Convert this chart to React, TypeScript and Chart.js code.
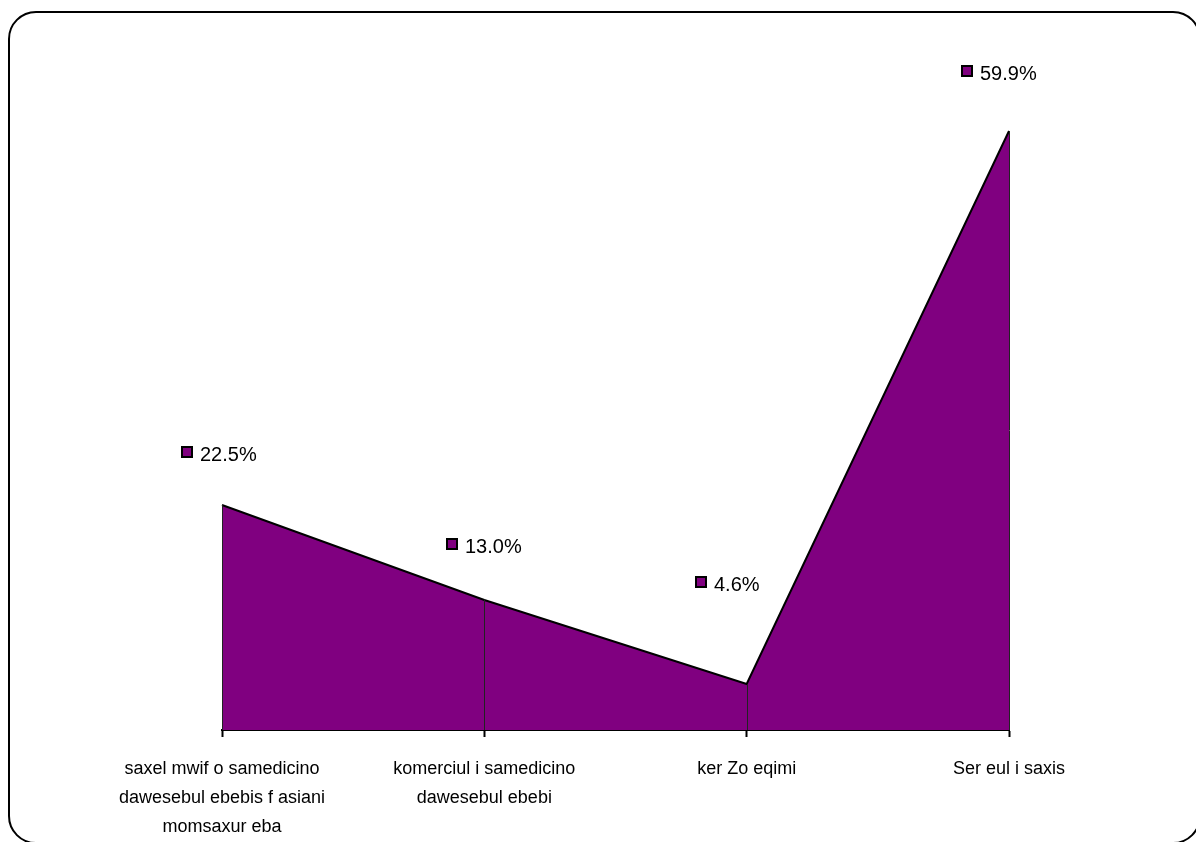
import React, { useEffect, useRef } from "react";
import { Chart, registerables } from "chart.js";

Chart.register(...registerables);

const categories: string[][] = [
  ["saxel mwif o samedicino", "dawesebul ebebis f asiani", "momsaxur eba"],
  ["komerciul i samedicino", "dawesebul ebebi"],
  ["ker Zo eqimi"],
  ["Ser eul i saxis"],
];
const shares: number[] = [22.5, 13.0, 4.6, 59.9];
const shareLabels: string[] = ["22.5%", "13.0%", "4.6%", "59.9%"];

const FILL = "#800080";
const FONT = "'Liberation Sans', Arial, sans-serif";

// label placement relative to each point (like a datalabels offset option)
const labelShift = [
  { dx: -3, dy: -50 },
  { dx: 0, dy: -53 },
  { dx: -19, dy: -99 },
  { dx: -10, dy: -57 },
];

const dropLinesPlugin = {
  id: "dropLines",
  afterDatasetsDraw(chart: any) {
    const meta = chart.getDatasetMeta(0);
    const ctx = chart.ctx;
    const bottom = chart.scales.y.getPixelForValue(0);
    ctx.save();
    ctx.strokeStyle = "#222";
    ctx.lineWidth = 1;
    meta.data.forEach((pt: any) => {
      const x = Math.round(pt.x) + 0.5;
      ctx.beginPath();
      ctx.moveTo(x, pt.y);
      ctx.lineTo(x, bottom);
      ctx.stroke();
    });
    ctx.restore();
  },
};

const valueLabelPlugin = {
  id: "valueLabels",
  afterDraw(chart: any) {
    const meta = chart.getDatasetMeta(0);
    const ctx = chart.ctx;
    ctx.save();
    ctx.font = `20px ${FONT}`;
    ctx.textBaseline = "middle";
    ctx.textAlign = "left";
    meta.data.forEach((pt: any, i: number) => {
      const text = shareLabels[i];
      const sh = labelShift[i];
      const tw = ctx.measureText(text).width;
      const sq = 12;
      const gap = 7;
      const total = sq + gap + tw;
      const cx = pt.x + sh.dx;
      const cy = pt.y + sh.dy;
      const left = Math.round(cx - total / 2);
      const sqTop = Math.round(cy - 9);
      ctx.fillStyle = FILL;
      ctx.fillRect(left, sqTop, sq, sq);
      ctx.strokeStyle = "#000";
      ctx.lineWidth = 2;
      ctx.strokeRect(left + 1, sqTop + 1, sq - 2, sq - 2);
      ctx.fillStyle = "#000";
      ctx.fillText(text, left + sq + gap, cy);
    });
    ctx.restore();
  },
};

export default function App() {
  const canvasRef = useRef<HTMLCanvasElement | null>(null);

  useEffect(() => {
    if (!canvasRef.current) return;
    const chart = new Chart(canvasRef.current, {
      type: "line",
      data: {
        labels: categories,
        datasets: [
          {
            data: shares,
            fill: "origin",
            backgroundColor: FILL,
            borderColor: "#000",
            borderWidth: 2,
            pointRadius: 0,
            tension: 0,
          },
        ],
      },
      options: {
        responsive: false,
        animation: false,
        layout: { padding: { left: 222, right: 187, top: 30, bottom: 0 } },
        plugins: {
          legend: { display: false },
          tooltip: { enabled: false },
          title: { display: false },
        },
        scales: {
          x: {
            type: "category",
            offset: false,
            afterFit: (scale: any) => {
              scale.height = 112;
            },
            border: { display: true, color: "#000", width: 2 },
            grid: {
              display: true,
              drawOnChartArea: false,
              drawTicks: true,
              tickLength: 7,
              tickWidth: 2,
              tickColor: "#000",
              color: "#000",
            },
            ticks: {
              autoSkip: false,
              maxRotation: 0,
              minRotation: 0,
              padding: 18,
              color: "#000",
              font: { family: FONT, size: 18, lineHeight: "29px" as any },
            },
          },
          y: {
            display: false,
            min: 0,
            max: 70,
          },
        },
      },
      plugins: [dropLinesPlugin, valueLabelPlugin],
    });
    return () => chart.destroy();
  }, []);

  return (
    <div
      style={{
        position: "absolute",
        left: 0,
        top: 0,
        width: 1196,
        height: 842,
        overflow: "hidden",
        background: "#fff",
      }}
    >
      <div
        style={{
          position: "absolute",
          left: 8,
          top: 11,
          width: 1193,
          height: 833,
          boxSizing: "border-box",
          border: "2px solid #000",
          borderRadius: 28,
        }}
      />
      <canvas
        ref={canvasRef}
        width={1196}
        height={842}
        style={{ position: "absolute", left: 0, top: 0, width: 1196, height: 842 }}
      />
    </div>
  );
}
